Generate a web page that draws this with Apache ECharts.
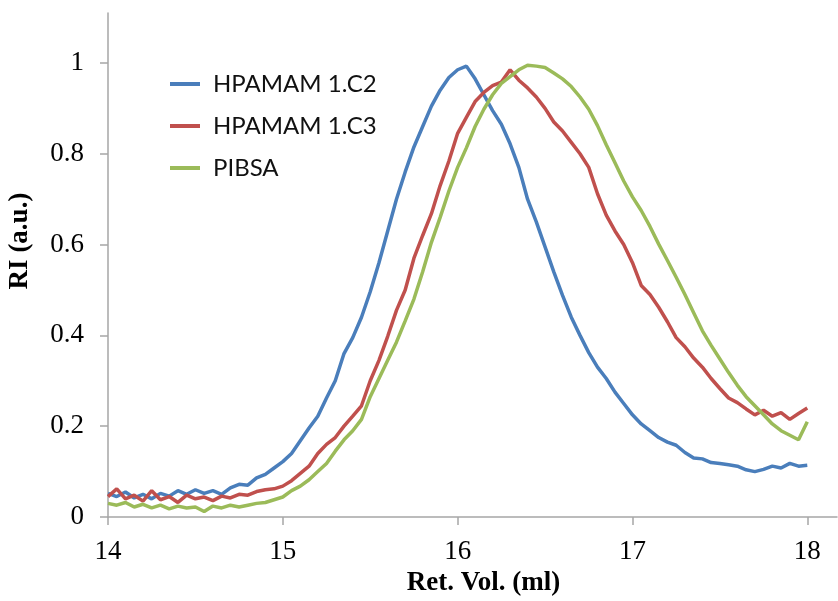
<!DOCTYPE html>
<html>
<head>
<meta charset="utf-8">
<script src="https://cdn.jsdelivr.net/npm/echarts@6/dist/echarts.min.js"></script>
<style>
  html, body { margin: 0; padding: 0; background: #fff; }
  #chart { width: 838px; height: 601px; }
</style>
</head>
<body>
<div id="chart"></div>
<script>
// retention volume (ml)
var retVol = [
  14.00, 14.05, 14.10, 14.15, 14.20, 14.25, 14.30, 14.35, 14.40, 14.45,
  14.50, 14.55, 14.60, 14.65, 14.70, 14.75, 14.80, 14.85, 14.90, 14.95,
  15.00, 15.05, 15.10, 15.15, 15.20, 15.25, 15.30, 15.35, 15.40, 15.45,
  15.50, 15.55, 15.60, 15.65, 15.70, 15.75, 15.80, 15.85, 15.90, 15.95,
  16.00, 16.05, 16.10, 16.15, 16.20, 16.25, 16.30, 16.35, 16.40, 16.45,
  16.50, 16.55, 16.60, 16.65, 16.70, 16.75, 16.80, 16.85, 16.90, 16.95,
  17.00, 17.05, 17.10, 17.15, 17.20, 17.25, 17.30, 17.35, 17.40, 17.45,
  17.50, 17.55, 17.60, 17.65, 17.70, 17.75, 17.80, 17.85, 17.90, 17.95,
  18.00
];

var seriesNames = ['HPAMAM 1.C2', 'HPAMAM 1.C3', 'PIBSA'];

var riC2 = [
  0.052, 0.045, 0.055, 0.042, 0.050, 0.040, 0.052, 0.046, 0.058, 0.050,
  0.060, 0.052, 0.058, 0.050, 0.064, 0.072, 0.070, 0.086, 0.094, 0.108,
  0.122, 0.140, 0.168, 0.196, 0.222, 0.262, 0.300, 0.360, 0.395, 0.440,
  0.496, 0.560, 0.630, 0.700, 0.760, 0.815, 0.860, 0.905, 0.940, 0.968,
  0.985, 0.993, 0.965, 0.930, 0.895, 0.865, 0.822, 0.770, 0.700, 0.650,
  0.595, 0.540, 0.488, 0.440, 0.400, 0.362, 0.330, 0.305, 0.275, 0.250,
  0.225, 0.205, 0.190, 0.175, 0.165, 0.158, 0.142, 0.130, 0.128, 0.120,
  0.118, 0.115, 0.112, 0.104, 0.100, 0.105, 0.112, 0.108, 0.118, 0.112,
  0.114
];

var riC3 = [
  0.045, 0.062, 0.040, 0.048, 0.035, 0.058, 0.038, 0.045, 0.032, 0.048,
  0.040, 0.044, 0.036, 0.046, 0.042, 0.050, 0.048, 0.056, 0.060, 0.062,
  0.068, 0.080, 0.096, 0.112, 0.140, 0.160, 0.175, 0.200, 0.222, 0.245,
  0.300, 0.345, 0.398, 0.455, 0.500, 0.570, 0.620, 0.668, 0.730, 0.784,
  0.845, 0.880, 0.915, 0.935, 0.950, 0.958, 0.985, 0.962, 0.945, 0.925,
  0.900, 0.870, 0.850, 0.825, 0.800, 0.770, 0.712, 0.665, 0.630, 0.600,
  0.560, 0.510, 0.490, 0.462, 0.430, 0.395, 0.375, 0.350, 0.330, 0.305,
  0.283, 0.262, 0.252, 0.238, 0.225, 0.235, 0.222, 0.230, 0.215, 0.228,
  0.240
];

var riPibsa = [
  0.030, 0.026, 0.032, 0.022, 0.028, 0.020, 0.026, 0.018, 0.024, 0.020,
  0.022, 0.012, 0.024, 0.020, 0.026, 0.022, 0.026, 0.030, 0.032, 0.038,
  0.044, 0.058, 0.068, 0.082, 0.100, 0.118, 0.145, 0.170, 0.190, 0.215,
  0.265, 0.305, 0.345, 0.385, 0.432, 0.480, 0.540, 0.605, 0.660, 0.718,
  0.770, 0.813, 0.860, 0.898, 0.930, 0.955, 0.970, 0.985, 0.995, 0.993,
  0.990, 0.978, 0.965, 0.948, 0.925, 0.898, 0.862, 0.820, 0.780, 0.740,
  0.705, 0.675, 0.640, 0.601, 0.565, 0.528, 0.490, 0.450, 0.410, 0.378,
  0.348, 0.318, 0.290, 0.265, 0.245, 0.225, 0.205, 0.190, 0.180, 0.170,
  0.210
];

var xTicks = [14, 15, 16, 17, 18];
var yTicks = [0, 0.2, 0.4, 0.6, 0.8, 1];

function pairs(ys) {
  return retVol.map(function (x, i) { return [x, ys[i]]; });
}

var myChart = echarts.init(document.getElementById('chart'));
var axisGray = '#a6a6a6';
var serif = '"Liberation Serif", "DejaVu Serif", serif';

var option = {
  backgroundColor: '#ffffff',
  animation: false,
  color: ['#4a7ebb', '#c0504d', '#9bbb59'],
  grid: { left: 108, right: 1, top: 13, bottom: 84, outerBoundsMode: 'none' },
  legend: {
    orient: 'vertical',
    left: 170,
    top: 72,
    padding: 0,
    icon: 'rect',
    itemWidth: 30,
    itemHeight: 4,
    itemGap: 18,
    textStyle: { fontFamily: 'Lato', fontSize: 24, color: '#111', lineHeight: 24, padding: [0, 0, 0, 8] },
    data: seriesNames
  },
  xAxis: {
    type: 'value',
    min: 14,
    max: 18.17,
    interval: 1,
    name: 'Ret. Vol. (ml)',
    nameLocation: 'middle',
    nameGap: 53,
    nameTextStyle: { fontFamily: serif, fontSize: 27, fontWeight: 'bold', color: '#000', padding: [0, 0, 0, 22] },
    axisLine: { lineStyle: { color: axisGray, width: 1.5 } },
    axisTick: { show: true, inside: false, length: 8, lineStyle: { color: axisGray, width: 1.5 }, customValues: xTicks },
    axisLabel: { fontFamily: serif, fontSize: 27, color: '#000', margin: 21, customValues: xTicks },
    splitLine: { show: false }
  },
  yAxis: {
    type: 'value',
    min: 0,
    max: 1.11,
    interval: 0.2,
    name: 'RI (a.u.)',
    nameLocation: 'middle',
    nameGap: 74,
    nameTextStyle: { fontFamily: serif, fontSize: 27, fontWeight: 'bold', color: '#000', padding: [0, 0, 0, 48] },
    axisLine: { show: true, lineStyle: { color: axisGray, width: 1.5 } },
    axisTick: { show: true, inside: false, length: 8, lineStyle: { color: axisGray, width: 1.5 }, customValues: yTicks },
    axisLabel: { fontFamily: serif, fontSize: 27, color: '#000', margin: 24, customValues: yTicks },
    splitLine: { show: false }
  },
  series: [
    { name: seriesNames[0], type: 'line', showSymbol: false, data: pairs(riC2), lineStyle: { width: 3.5 } },
    { name: seriesNames[1], type: 'line', showSymbol: false, data: pairs(riC3), lineStyle: { width: 3.5 } },
    { name: seriesNames[2], type: 'line', showSymbol: false, data: pairs(riPibsa), lineStyle: { width: 3.5 } }
  ]
};
myChart.setOption(option);
</script>
</body>
</html>
